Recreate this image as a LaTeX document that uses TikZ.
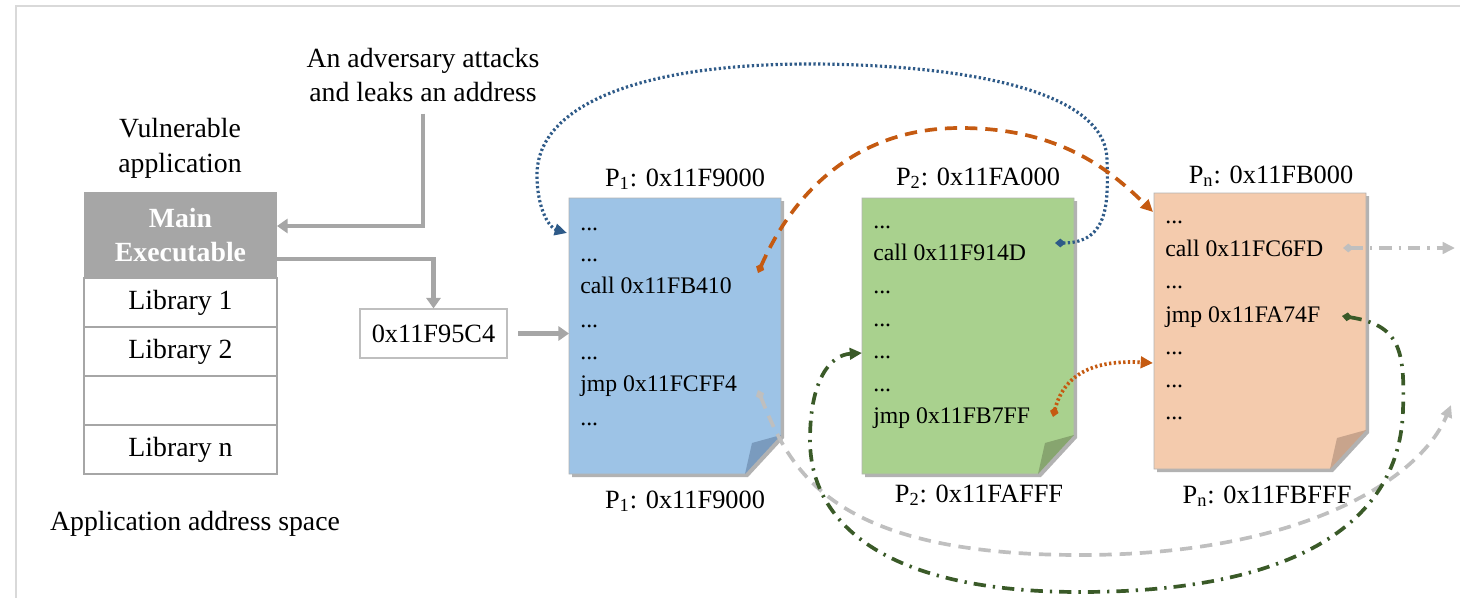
\documentclass[tikz,border=0pt]{standalone}
\usepackage{fontspec}
\setmainfont{Liberation Serif}
\usetikzlibrary{arrows.meta}
\definecolor{pageB}{HTML}{9DC3E6}
\definecolor{pageG}{HTML}{A9D18E}
\definecolor{pageO}{HTML}{F4CBAD}
\definecolor{foldB}{HTML}{7A9BBE}
\definecolor{foldG}{HTML}{87A56F}
\definecolor{foldO}{HTML}{C8A48C}
\definecolor{linkB}{HTML}{2E5A88}
\definecolor{linkO}{HTML}{C55A11}
\definecolor{linkG}{HTML}{3A5A28}
\definecolor{linkL}{HTML}{BFBFBF}
\colorlet{arrowG}{black!35}
\colorlet{frameG}{black!15}
\newcommand{\mainsize}{\fontsize{15.8}{19.8}\selectfont}
\newcommand{\labelsize}{\fontsize{15}{18}\selectfont}
\newcommand{\codesize}{\fontsize{13.5}{16}\selectfont}
\newcommand{\elide}{...}
\tikzstyle{mainbox}=[fill=arrowG, text=white, font=\mainsize\bfseries, align=center, minimum width=3.86cm, minimum height=1.72cm, inner sep=0pt]
\tikzstyle{lib}=[draw=arrowG, line width=0.6pt, minimum width=3.86cm, minimum height=0.98cm, inner sep=0pt]
\tikzstyle{addr}=[draw=black!25, line width=0.6pt, minimum width=2.94cm, minimum height=0.98cm, inner sep=0pt, font=\labelsize]
\tikzstyle{asm}=[anchor=base west, inner sep=0pt, font=\codesize]
\tikzstyle{pagelabel}=[anchor=base, inner sep=0pt, font=\labelsize]
\tikzstyle{gray arrow}=[draw=arrowG, line width=2.8pt, -{Triangle[length=6pt,width=8pt]}]
\tikzstyle{link}=[line width=2.1pt, {Diamond[length=6pt,width=5pt]}-{Triangle[length=7pt,width=6.5pt]}]
\tikzstyle{linkdots}=[link, dash pattern=on 1.3pt off 1.4pt]
\tikzstyle{linkdash}=[link, dash pattern=on 7pt off 4.5pt]
\tikzstyle{linkdashdot}=[link, dash pattern=on 7pt off 4pt on 1.3pt off 4pt]

\begin{document}
\begin{tikzpicture}[x=0.02cm, y=-0.02cm, font=\mainsize]
	\useasboundingbox (0,0) rectangle (1460,598);
	% Frame of the figure
	\draw[frameG, line width=1.2pt] (16,598) -- (16,6) -- (1460,6);

	% Address space of the application
	\node[align=center] (vuln) at (180,148) {Vulnerable\\application};
	\node[mainbox] (main) at (180.5,235) {Main\\Executable};
	\foreach \t [count=\i] in {Library 1, Library 2, {}, Library n}{ \node[lib] (lib\i) at (180.5,{253.5+49*\i}) {\t}; }
	\node (space) at (195,524) {Application address space};

	% The leaked address
	\node[align=center] (adv) at (423,75) {An adversary attacks\\and leaks an address};
	\node[addr] (addr) at (433.5,333.5) {0x11F95C4};
	\coordinate (mainin) at (277,226);
	\coordinate (mainout) at (277,259);
	\coordinate (p1left) at (569,336);
	\draw[gray arrow, shorten <=3pt] (adv.south) |- (mainin);
	\draw[gray arrow] (mainout) -| (addr.north);
	\draw[gray arrow, shorten <=6pt] (addr.east) -- (addr.east -| p1left);

	% Pages of the randomized code
	\foreach \x/\y/\c in {569/198/B, 862/198/G, 1154/193/O}{
		\fill[black!30] ({\x+3},{\y+3}) -- ({\x+215},{\y+3}) -- ({\x+215},{\y+240}) -- ({\x+179},{\y+279}) -- ({\x+3},{\y+279}) -- cycle;
		\filldraw[fill=page\c, draw=black!30, line width=0.5pt] (\x,\y) -- ({\x+212},\y) -- ({\x+212},{\y+237}) -- ({\x+176},{\y+276}) -- (\x,{\y+276}) -- cycle;
		\fill[fold\c] ({\x+212},{\y+237}) -- ({\x+176},{\y+276}) -- ({\x+183},{\y+245}) -- cycle;
	}

	\node[pagelabel] (p1head) at (685,186) {P\textsubscript{1}: 0x11F9000};
	\node[pagelabel] (p2head) at (978,185) {P\textsubscript{2}: 0x11FA000};
	\node[pagelabel] (pnhead) at (1271,183) {P\textsubscript{n}: 0x11FB000};
	\node[pagelabel] (p1foot) at (685,508) {P\textsubscript{1}: 0x11F9000};
	\node[pagelabel] (p2foot) at (979,502) {P\textsubscript{2}: 0x11FAFFF};
	\node[pagelabel] (pnfoot) at (1267,503) {P\textsubscript{n}: 0x11FBFFF};

	\foreach \y/\t [count=\i] in {230/\elide, 261/\elide, 293/call 0x11FB410, 327/\elide, 359/\elide, 391/jmp 0x11FCFF4, 425/\elide}{ \node[asm] (p1l\i) at (580,\y) {\t}; }
	\foreach \y/\t [count=\i] in {228/\elide, 260/call 0x11F914D, 293/\elide, 326/\elide, 358/\elide, 391/\elide, 423/jmp 0x11FB7FF}{ \node[asm] (p2l\i) at (873,\y) {\t}; }
	\foreach \y/\t [count=\i] in {223/\elide, 256/call 0x11FC6FD, 288/\elide, 322/jmp 0x11FA74F, 354/\elide, 387/\elide, 419/\elide}{ \node[asm] (pnl\i) at (1165,\y) {\t}; }

	% Calls and jumps between the pages
	\coordinate (p1call) at (758,273);
	\coordinate (p1jmp) at (758,390);
	\coordinate (p2call) at (1055,243);
	\coordinate (p2jmp) at (1053,417);
	\coordinate (pncall) at (1343,248);
	\coordinate (pnjmp) at (1342,316);
	\coordinate (p1in) at (567,233);
	\coordinate (p2in) at (862,353);
	\coordinate (pnin) at (1153,212);
	\coordinate (pnleft) at (1153,363);
	\coordinate (outcall) at (1455,248);
	\coordinate (outjmp) at (1451,405);

	\draw[linkdots, linkB, line width=1.8pt] (p2call) .. controls (1110,243) and (1108,200) .. (1107,160)
		.. controls (1106,75) and (900,64) .. (810,64) .. controls (640,64) and (537,105) .. (537,175)
		.. controls (537,210) and (550,228) .. (p1in);
	\draw[linkdash, linkO] (p1call) .. controls (790,200) and (850,128) .. (960,128)
		.. controls (1060,128) and (1110,170) .. (pnin);
	\draw[linkdots, linkO] (p2jmp) .. controls (1065,370) and (1100,360) .. (pnleft);
	\draw[linkdash, linkL] (p1jmp) .. controls (790,470) and (830,555) .. (1080,555)
		.. controls (1300,555) and (1420,480) .. (outjmp);
	\draw[linkdashdot, linkG] (pnjmp) .. controls (1400,325) and (1405,350) .. (1403,410)
		.. controls (1400,520) and (1300,592) .. (1080,592) .. controls (880,592) and (810,520) .. (810,440)
		.. controls (810,380) and (830,355) .. (p2in);
	\draw[linkdashdot, linkL] (pncall) -- (outcall);
\end{tikzpicture}
\end{document}
